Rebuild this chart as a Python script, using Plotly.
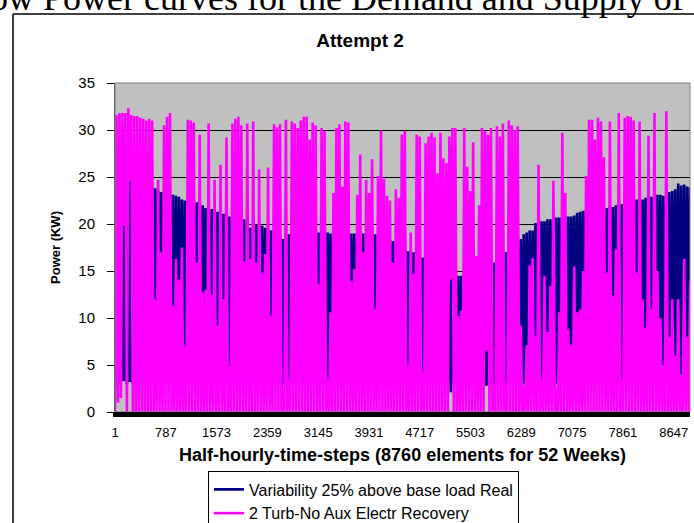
import plotly.graph_objects as go

# ---------------- data (one entry per ~46 half-hour steps) ----
series_names = ["Variability 25% above base load Real", "2 Turb-No Aux Electr Recovery"]
x_tick_vals = [1, 787, 1573, 2359, 3145, 3931, 4717, 5503, 6289, 7075, 7861, 8647]
y_tick_vals = [0, 5, 10, 15, 20, 25, 30, 35]
block_len = 46  # half-hour steps per sampled block

# magenta series (supply): upper and lower values inside each block
mag_hi = [31.6, 31.8, 31.8, 31.8, 32.3, 31.6, 31.5, 31.5, 31.3, 31.2,
          31.0, 31.2, 31.0, 12.0, 24.7, 17.0, 30.5, 31.4, 31.8, 11.3,
          16.3, 14.1, 17.5, 7.0, 31.1, 31.0, 30.8, 15.9, 29.5, 12.7,
          13.0, 30.7, 12.5, 24.7, 9.2, 26.3, 12.0, 29.2, 4.9, 30.7,
          31.2, 31.4, 30.5, 16.0, 30.7, 16.3, 30.9, 15.9, 25.8, 14.8,
          16.8, 26.0, 10.2, 30.6, 30.3, 30.6, 2.5, 31.1, 3.5, 30.9,
          30.7, 30.2, 31.0, 31.4, 31.4, 29.0, 30.8, 30.5, 13.6, 30.2,
          29.9, 3.5, 10.6, 23.3, 30.2, 30.6, 24.0, 30.9, 30.8, 13.9,
          15.2, 23.1, 27.4, 17.0, 24.7, 23.3, 26.9, 11.0, 25.1, 29.9,
          24.8, 23.0, 22.5, 15.9, 23.7, 22.8, 29.5, 29.9, 4.9, 19.1,
          14.7, 29.5, 29.3, 4.2, 28.6, 29.3, 29.7, 29.2, 25.4, 29.7,
          27.0, 26.5, 29.3, 30.2, 30.2, 10.2, 10.8, 30.2, 26.1, 23.5,
          28.7, 16.6, 22.0, 30.2, 29.9, 29.5, 30.2, 2.8, 30.4, 29.3,
          30.7, 3.0, 31.0, 30.5, 30.0, 30.4, 9.2, 2.8, 7.1, 15.6,
          16.4, 8.1, 26.3, 3.5, 14.5, 8.5, 13.4, 24.6, 2.5, 10.6,
          29.7, 23.3, 8.8, 7.1, 15.5, 10.6, 10.9, 15.0, 25.1, 31.1,
          31.1, 29.0, 31.3, 30.9, 27.1, 14.8, 30.9, 12.4, 17.3, 31.8,
          3.5, 31.3, 31.5, 31.4, 31.0, 14.8, 30.9, 12.0, 9.0, 29.4,
          11.0, 31.8, 15.0, 10.0, 5.0, 32.0, 8.0, 12.0, 6.0, 12.0,
          4.0, 16.3, 8.0, 14.0]
mag_lo = [0, 1.0, 1.5, 19.8, 0, 24.7, 0, 0, 0, 0,
          0, 0, 0, 0, 0, 0, 0, 0, 0, 0,
          0, 0, 0, 0, 0, 0, 0, 0, 0, 0,
          0, 0, 0, 0, 0, 0, 0, 0, 0, 0,
          0, 0, 0, 0, 0, 0, 0, 0, 0, 0,
          0, 0, 0, 0, 0, 0, 0, 0, 0, 0,
          0, 0, 0, 0, 0, 0, 0, 0, 0, 0,
          0, 0, 0, 0, 0, 0, 0, 0, 0, 0,
          0, 0, 0, 0, 0, 0, 0, 0, 0, 0,
          0, 0, 0, 0, 0, 0, 0, 0, 0, 0,
          0, 0, 0, 0, 0, 0, 0, 0, 0, 0,
          0, 0, 0, 14.1, 0, 0, 0, 0, 0, 0,
          0, 0, 0, 0, 0, 6.5, 0, 0, 0, 0,
          0, 0, 0, 0, 0, 0, 0, 0, 0, 0,
          0, 0, 0, 0, 0, 0, 0, 0, 0, 0,
          0, 0, 0, 0, 0, 0, 0, 0, 0, 0,
          0, 0, 0, 0, 0, 0, 0, 0, 0, 0,
          0, 0, 0, 0, 0, 0, 0, 0, 0, 0,
          0, 0, 0, 0, 0, 0, 0, 0, 0, 0,
          0, 0, 0, 0]

# navy series (demand): daily peak and night-time base inside each block
nav_hi = [24.4, 24.6, 24.8, 22.0, 24.6, 24.8, 24.5, 24.4, 24.3, 24.2,
          24.1, 24.0, 23.9, 23.8, 23.6, 23.4, 23.3, 23.2, 23.2, 23.1,
          23.0, 22.9, 22.6, 22.5, 22.5, 22.4, 22.3, 22.3, 22.2, 22.0,
          21.7, 21.7, 21.6, 21.5, 21.3, 21.3, 21.1, 21.0, 20.8, 20.8,
          20.7, 20.6, 20.5, 20.5, 20.0, 19.6, 19.8, 19.9, 19.9, 19.8,
          19.6, 19.5, 19.3, 19.3, 19.1, 18.9, 18.4, 18.6, 18.9, 18.9,
          19.0, 19.0, 19.0, 19.1, 19.1, 19.1, 19.1, 19.1, 19.1, 19.1,
          19.1, 19.1, 19.0, 19.0, 19.0, 19.0, 19.0, 19.0, 19.0, 19.0,
          19.0, 19.0, 19.0, 19.0, 18.9, 18.9, 18.9, 18.9, 18.8, 18.7,
          18.6, 18.5, 18.4, 18.2, 18.2, 18.2, 18.2, 18.0, 17.1, 17.0,
          17.0, 16.8, 16.6, 16.4, 16.2, 16.0, 15.8, 15.6, 15.4, 15.2,
          15.0, 14.8, 14.5, 14.3, 14.3, 14.5, 14.5, 14.2, 13.8, 14.0,
          14.2, 14.5, 14.8, 15.0, 15.3, 15.5, 15.7, 15.9, 16.0, 16.3,
          16.6, 17.0, 17.5, 17.8, 18.0, 18.2, 18.4, 18.9, 19.1, 19.3,
          19.3, 20.1, 20.2, 20.3, 20.3, 20.5, 20.5, 20.6, 20.7, 20.7,
          20.8, 20.8, 20.8, 20.8, 20.9, 21.2, 21.3, 21.4, 21.5, 21.6,
          21.6, 21.6, 21.7, 21.7, 21.7, 21.7, 21.8, 21.8, 22.0, 22.0,
          22.1, 22.2, 22.3, 22.4, 22.5, 22.6, 22.6, 22.6, 22.8, 22.9,
          22.9, 23.0, 23.1, 23.1, 23.0, 23.2, 23.4, 23.5, 23.7, 24.3,
          24.1, 24.2, 24.0, 23.9]
nav_lo = [2.5, 3.0, 3.2, 3.3, 3.0, 3.2, 3.0, 3.0, 3.0, 3.0,
          3.0, 3.0, 3.2, 3.0, 3.0, 3.0, 3.0, 3.0, 3.5, 3.0,
          3.0, 3.0, 3.0, 3.0, 3.0, 3.0, 3.0, 3.0, 3.0, 3.0,
          3.0, 3.0, 3.0, 3.0, 3.0, 3.0, 3.0, 3.0, 3.0, 3.0,
          3.0, 3.0, 3.0, 3.0, 3.0, 3.0, 3.0, 3.0, 3.0, 3.0,
          3.0, 3.0, 3.0, 3.0, 3.0, 3.0, 2.5, 3.0, 3.5, 3.0,
          3.0, 3.0, 3.5, 3.0, 3.2, 3.0, 3.0, 3.0, 3.0, 3.0,
          3.0, 3.5, 3.0, 3.0, 3.0, 3.0, 3.0, 3.0, 3.0, 3.0,
          3.0, 3.0, 3.0, 3.0, 3.0, 3.0, 3.0, 3.0, 3.0, 3.0,
          3.0, 3.5, 3.0, 3.0, 3.0, 3.0, 3.0, 3.0, 3.0, 3.0,
          3.0, 3.0, 3.0, 3.0, 3.0, 3.0, 3.0, 3.0, 3.0, 3.0,
          3.0, 3.0, 3.0, 2.1, 3.0, 3.0, 3.0, 3.0, 3.0, 3.0,
          3.0, 3.0, 3.0, 3.0, 3.0, 2.8, 3.0, 2.8, 3.0, 3.0,
          3.0, 2.1, 3.0, 3.0, 3.0, 3.0, 3.0, 2.8, 3.0, 3.0,
          3.0, 3.0, 3.0, 3.0, 3.0, 3.0, 3.0, 3.0, 2.5, 3.0,
          3.0, 3.0, 3.0, 3.0, 3.0, 3.0, 3.0, 3.0, 3.0, 3.0,
          3.0, 3.0, 3.0, 3.0, 3.0, 3.0, 3.0, 3.0, 3.0, 3.0,
          3.0, 3.0, 3.0, 3.0, 3.0, 3.0, 3.0, 3.0, 3.0, 3.0,
          3.0, 3.0, 3.0, 3.0, 3.0, 3.0, 3.0, 3.0, 3.0, 3.0,
          3.0, 3.0, 3.0, 3.0]

# ---------------- build the half-hourly sequences ----------------
steps, mag_vals, nav_vals = [], [], []
for i in range(len(mag_hi)):
    steps += [1 + block_len * i, 1 + block_len * i + block_len // 2]
    mag_vals += [mag_lo[i], mag_hi[i]]
    nav_vals += [nav_lo[i], nav_hi[i]]

W, H = 694, 523
L, R, T, B = 115, 4, 83, 110.5
pw, ph = W - L - R, H - T - B

def px(x):  # pixel -> paper x
    return (x - L) / pw

def py(y):  # pixel -> paper y
    return (H - B - y) / ph

fig = go.Figure()
fig.add_trace(go.Scatter(x=steps, y=nav_vals, mode="lines", name=series_names[0],
                         line=dict(color="#000080", width=2.7)))
fig.add_trace(go.Scatter(x=steps, y=mag_vals, mode="lines", name=series_names[1],
                         line=dict(color="#FF00FF", width=2.6)))

base_font = "Liberation Sans, Arial, sans-serif"

fig.update_layout(
    width=W, height=H,
    margin=dict(l=L, r=R, t=T, b=B, autoexpand=False),
    paper_bgcolor="white", plot_bgcolor="#C0C0C0",
    font=dict(family=base_font, size=13, color="black"),
    title=dict(text="<b>Attempt 2</b>", font=dict(size=19, family=base_font, color="black"),
               xref="paper", x=px(360), xanchor="center",
               yref="container", y=1 - 40 / H, yanchor="middle"),
    showlegend=True,
    legend=dict(x=px(208), y=py(472), xanchor="left", yanchor="top",
                bgcolor="white", bordercolor="black", borderwidth=1,
                font=dict(size=16, family=base_font, color="black"),
                tracegroupgap=0, itemwidth=30),
    xaxis=dict(range=[1, 8900], tickmode="array", tickvals=x_tick_vals,
               ticktext=[str(v) for v in x_tick_vals], ticks="", showgrid=False,
               zeroline=False, showline=False, ticklabelstandoff=11,
               tickfont=dict(size=13, family=base_font, color="black"),
               title=dict(text="<b>Half-hourly-time-steps (8760 elements for 52 Weeks)</b>",
                          font=dict(size=18, family=base_font, color="black"), standoff=9)),
    yaxis=dict(range=[0, 35], tickmode="array", tickvals=y_tick_vals,
               ticks="outside", ticklen=7, tickcolor="black", tickwidth=1,
               showgrid=True, gridcolor="black", gridwidth=1, zeroline=False,
               showline=True, linecolor="#404040", linewidth=1, ticklabelstandoff=9,
               tickfont=dict(size=15, family=base_font, color="black"),
               title=dict(text="<b>Power (KW)</b>",
                          font=dict(size=13, family="Liberation Sans Narrow, Arial Narrow, " + base_font,
                                    color="black"), standoff=14)),
)

shapes = [
    # plot-area border
    dict(type="rect", xref="paper", yref="paper", x0=0, x1=1, y0=0, y1=1,
         line=dict(color="#808080", width=1), layer="above"),
    # dense category tick band under the x axis
    dict(type="rect", xref="paper", yref="paper", x0=px(113), x1=1, y0=py(417.5), y1=py(412.5),
         line=dict(width=0), fillcolor="black", layer="above"),
    # chart-area border (left and top edges)
    dict(type="line", xref="paper", yref="paper", x0=px(13), x1=px(13), y0=py(14), y1=py(540),
         line=dict(color="black", width=1.5)),
    dict(type="line", xref="paper", yref="paper", x0=px(13), x1=px(700), y0=py(14), y1=py(14),
         line=dict(color="black", width=1.5)),
]
fig.update_layout(shapes=shapes)

# caption of the page, cut off by the top edge of the picture
fig.add_annotation(text="ow Power curves for the Demand and Supply of",
                   xref="paper", yref="paper", x=px(-12), y=py(20), xanchor="left", yanchor="bottom",
                   showarrow=False,
                   font=dict(family="Liberation Serif, Times New Roman, serif", size=36, color="black"))

fig.write_html("out.html")
